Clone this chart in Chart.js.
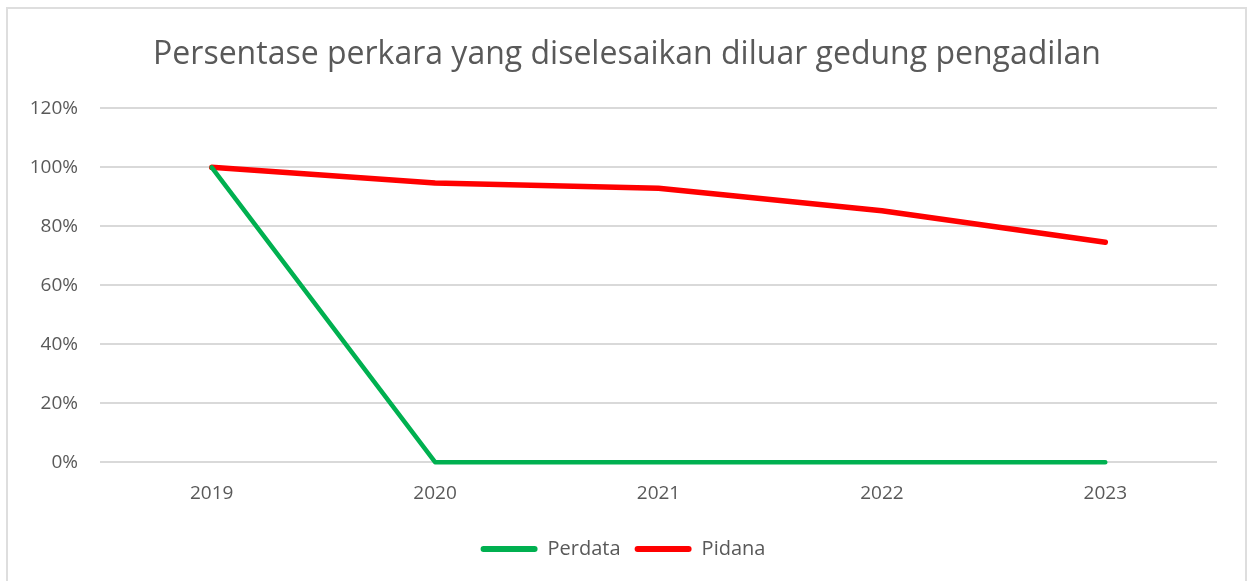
<!DOCTYPE html>
<html>
<head>
<meta charset="utf-8">
<script src="https://cdn.jsdelivr.net/npm/chart.js@4"></script>
<style>
html,body{margin:0;padding:0;background:#fff;overflow:hidden;}
#wrap{position:absolute;left:6px;top:7px;width:1241px;height:578px;border:2px solid #dedede;box-sizing:border-box;}
#c{display:block;}
</style>
</head>
<body>
<div id="wrap"><canvas id="c"></canvas></div>
<script>
const years = ["2019","2020","2021","2022","2023"];
const perdata = [100, 0, 0, 0, 0];
const pidana = [100, 94.7, 92.9, 85.3, 74.6];
const yTicks = [0, 20, 40, 60, 80, 100, 120];
const titleText = "Persentase perkara yang diselesaikan diluar gedung pengadilan";

const FONT = "'Open Sans', 'Noto Sans', sans-serif";
const titleShift = {
  id: 'titleShift',
  afterLayout(chart) {
    const t = chart.titleBlock;
    if (t) { t.left += 4; t.right += 4; }
  }
};
new Chart(document.getElementById('c'), {
  type: 'line',
  data: {
    labels: years,
    datasets: [
      {label: 'Perdata', data: perdata, borderColor: '#00b050', backgroundColor: '#00b050', borderWidth: 4.5, pointRadius: 0, tension: 0, borderCapStyle: 'round', borderJoinStyle: 'round', clip: 10},
      {label: 'Pidana', data: pidana, borderColor: '#ff0000', backgroundColor: '#ff0000', borderWidth: 5.5, pointRadius: 0, tension: 0, borderCapStyle: 'round', borderJoinStyle: 'round', clip: 10}
    ]
  },
  plugins: [titleShift],
  options: {
    responsive: true,
    maintainAspectRatio: false,
    animation: false,
    layout: {padding: {left: 21, right: 28, top: 0, bottom: 14}},
    plugins: {
      title: {display: true, text: titleText, color: '#595959', font: {family: FONT, size: 32, weight: 'normal'}, padding: {top: 27, bottom: 34}},
      legend: {position: 'bottom', labels: {color: '#595959', font: {family: FONT, size: 20}, boxWidth: 57, boxHeight: 6, useBorderRadius: true, borderRadius: 3, padding: 14,
        generateLabels: (chart) => chart.data.datasets.map((ds, i) => ({text: ds.label, fillStyle: ds.borderColor, strokeStyle: ds.borderColor, lineWidth: 0, fontColor: '#595959', datasetIndex: i, borderRadius: 3}))
      }},
      tooltip: {enabled: false}
    },
    scales: {
      x: {
        offset: true,
        grid: {display: false, drawTicks: false},
        border: {display: false},
        ticks: {color: '#595959', font: {family: FONT, size: 19}, padding: 20, maxRotation: 0}
      },
      y: {
        min: 0, max: 120,
        afterBuildTicks: (s) => { s.ticks = yTicks.map(v => ({value: v})); },
        afterFit: (s) => { s.width = 71; },
        grid: {color: '#d9d9d9', lineWidth: 2, drawTicks: false},
        border: {display: false},
        ticks: {color: '#595959', font: {family: FONT, size: 19}, padding: 22, callback: v => v + '%'}
      }
    }
  }
});
</script>
</body>
</html>
